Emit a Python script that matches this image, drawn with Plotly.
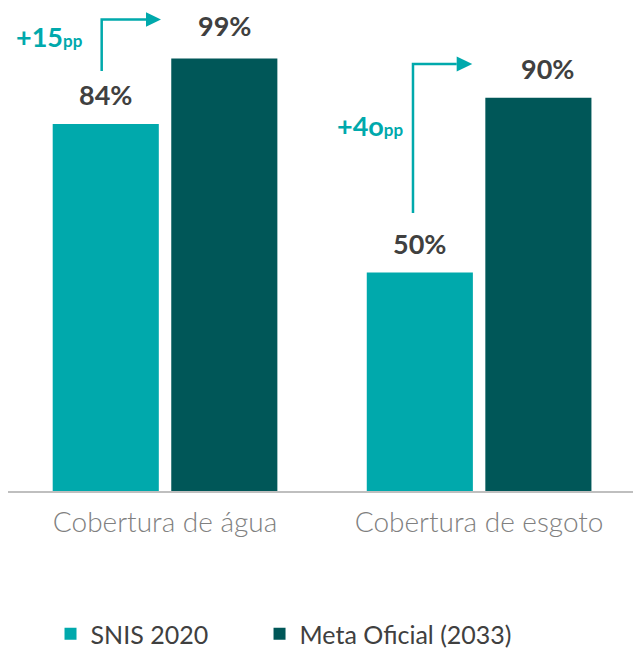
import plotly.graph_objects as go

# Coverage data (percent of population)
categories = ["Cobertura de água", "Cobertura de esgoto"]
snis_2020 = [84, 50]
meta_2033 = [99, 90]
series_names = ["SNIS 2020", "Meta Oficial (2033)"]
gain_labels = ["+15", "+4o"]

TEAL = "#00A9AC"
DARK_TEAL = "#005758"
LABEL_GRAY = "#404040"
FONT = "Lato"

fig = go.Figure()
fig.add_trace(go.Bar(x=categories, y=snis_2020, name=series_names[0],
                     marker=dict(color=TEAL, line=dict(width=0)),
                     legend="legend"))
fig.add_trace(go.Bar(x=categories, y=meta_2033, name=series_names[1],
                     marker=dict(color=DARK_TEAL, line=dict(width=0)),
                     legend="legend2"))

# Value labels above each bar
annotations = []
offsets = [-59.25, 59.25]
for vals, off in ((snis_2020, offsets[0]), (meta_2033, offsets[1])):
    for cat, v in zip(categories, vals):
        extra_x = 9 if (cat == categories[1] and off > 0) else 0
        annotations.append(dict(
            x=cat, y=v, xref="x", yref="y", text=f"{v}%", showarrow=False,
            xanchor="center", yanchor="bottom", xshift=off + extra_x,
            yshift=11 if v < 95 else 14,
            font=dict(family=FONT, size=27, color=LABEL_GRAY, weight="bold")))

# Gain call-outs with elbow arrows
gain_pos = [(-0.3679, 104.0, 27), (0.6526, 83.6, 27)]
for (gx, gy, gs), txt in zip(gain_pos, gain_labels):
    annotations.append(dict(
        x=gx, y=gy, xref="x", yref="y", showarrow=False,
        xanchor="center", yanchor="middle",
        text=f"{txt}<span style='font-size:{int(gs*0.66)}px'>pp</span>",
        font=dict(family=FONT, size=gs, color=TEAL, weight="bold")))

arrows = [
    # (x vertical, y bottom, y elbow, x head base, x tip, half height)
    (-0.2017, 96.1, 107.9, -0.0606, -0.0129, 1.65),
    (0.7895, 63.6, 97.7, 0.9287, 0.9783, 1.72),
]
shapes = []
for xv, yb, ye, xb, xt, hh in arrows:
    shapes.append(dict(type="path", xref="x", yref="y",
                       path=f"M {xv},{yb} L {xv},{ye} L {xb},{ye}",
                       line=dict(color=TEAL, width=2.5)))
    shapes.append(dict(type="path", xref="x", yref="y",
                       path=f"M {xb},{ye - hh} L {xt},{ye} L {xb},{ye + hh} Z",
                       fillcolor=TEAL, line=dict(color=TEAL, width=0)))

legend_style = dict(orientation="h", xref="container", yref="container",
                    y=0.023, xanchor="left", yanchor="middle",
                    bgcolor="rgba(0,0,0,0)",
                    font=dict(family=FONT, size=25, color=LABEL_GRAY))

fig.update_layout(
    width=633, height=649, autosize=False,
    margin=dict(l=8, r=0, t=0, b=158),
    paper_bgcolor="white", plot_bgcolor="white",
    barmode="group", bargap=0.245, bargroupgap=0.105,
    font=dict(family=FONT),
    xaxis=dict(type="category", range=[-0.5, 1.49], showgrid=False,
               showline=True, linecolor="#BFBFBF", linewidth=2,
               ticks="", zeroline=False, ticklabelstandoff=5,
               tickfont=dict(family=FONT, size=28, color="#808080", weight=300)),
    yaxis=dict(range=[0, 112.36], visible=False, fixedrange=True),
    showlegend=True,
    legend=dict(x=0.0798, **legend_style),
    legend2=dict(x=0.41, **legend_style),
    annotations=annotations,
    shapes=shapes,
)

fig.write_html("out.html")
